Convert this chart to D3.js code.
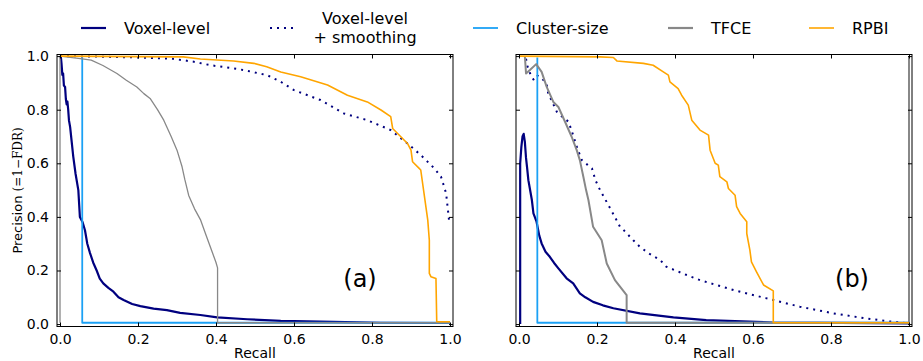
<!DOCTYPE html>
<html>
<head>
<meta charset="utf-8">
<script src="https://cdn.jsdelivr.net/npm/d3@7"></script>
<style>
  body { margin: 0; background: #fff; }
  svg { font-family: "DejaVu Sans", sans-serif; }
</style>
</head>
<body>
<svg width="923" height="361"></svg>
<script>
// recall / precision pairs
var voxelA = [[0.002,1.0],[0.004,0.97],[0.006,0.93],[0.008,0.935],[0.010,0.89],[0.013,0.885],[0.015,0.84],[0.017,0.82],[0.019,0.83],[0.021,0.80],[0.023,0.76],[0.026,0.735],[0.030,0.68],[0.034,0.625],[0.040,0.56],[0.047,0.50],[0.051,0.40],[0.058,0.38],[0.064,0.35],[0.070,0.30],[0.077,0.265],[0.085,0.23],[0.094,0.20],[0.102,0.17],[0.111,0.152],[0.124,0.135],[0.137,0.121],[0.150,0.10],[0.163,0.09],[0.185,0.075],[0.206,0.067],[0.24,0.058],[0.274,0.052],[0.308,0.042],[0.36,0.034],[0.403,0.025],[0.48,0.018],[0.566,0.012],[0.7,0.008],[0.823,0.005],[1.0,0.004]];
var smoothA = [[0,1.0],[0.1,0.998],[0.2,0.995],[0.29,0.99],[0.343,0.979],[0.386,0.966],[0.445,0.954],[0.471,0.948],[0.531,0.929],[0.565,0.905],[0.6,0.873],[0.668,0.836],[0.728,0.786],[0.788,0.761],[0.848,0.724],[0.891,0.674],[0.925,0.631],[0.96,0.581],[0.977,0.55],[0.99,0.488],[0.998,0.382]];
var clusterA = [[0.057,0.995],[0.057,0.005],[1.0,0.005]];
var tfceA = [[0,0.005],[0,1.0],[0.057,0.99],[0.08,0.985],[0.11,0.965],[0.146,0.935],[0.17,0.91],[0.197,0.885],[0.215,0.86],[0.231,0.842],[0.25,0.80],[0.266,0.761],[0.285,0.70],[0.30,0.649],[0.313,0.587],[0.32,0.54],[0.33,0.48],[0.345,0.43],[0.36,0.39],[0.375,0.33],[0.39,0.27],[0.40,0.23],[0.404,0.21],[0.404,0.005],[1.0,0.005]];
var rpbiA = [[0,1.0],[0.2,0.998],[0.316,0.997],[0.36,0.989],[0.445,0.982],[0.497,0.973],[0.53,0.96],[0.566,0.941],[0.617,0.923],[0.686,0.892],[0.737,0.854],[0.788,0.829],[0.823,0.799],[0.848,0.774],[0.853,0.73],[0.874,0.699],[0.891,0.674],[0.9,0.649],[0.904,0.606],[0.921,0.581],[0.925,0.575],[0.943,0.388],[0.947,0.313],[0.947,0.189],[0.951,0.177],[0.964,0.17],[0.966,0.009],[1.0,0.009]];

var voxelB = [[0.003,0.0],[0.003,0.60],[0.006,0.66],[0.009,0.70],[0.012,0.71],[0.015,0.68],[0.018,0.62],[0.021,0.58],[0.024,0.537],[0.033,0.463],[0.037,0.413],[0.045,0.382],[0.052,0.33],[0.058,0.301],[0.068,0.27],[0.079,0.251],[0.09,0.228],[0.101,0.208],[0.122,0.171],[0.139,0.152],[0.156,0.115],[0.17,0.10],[0.19,0.083],[0.215,0.07],[0.242,0.059],[0.31,0.04],[0.396,0.025],[0.48,0.015],[0.65,0.006],[1.0,0.003]];
var smoothB = [[0.018,0.99],[0.022,0.96],[0.03,0.93],[0.037,0.913],[0.045,0.93],[0.06,0.915],[0.071,0.895],[0.075,0.86],[0.085,0.83],[0.097,0.792],[0.11,0.775],[0.127,0.755],[0.14,0.70],[0.148,0.662],[0.161,0.612],[0.175,0.595],[0.187,0.581],[0.196,0.537],[0.208,0.50],[0.222,0.463],[0.242,0.41],[0.259,0.363],[0.268,0.351],[0.293,0.313],[0.31,0.288],[0.335,0.262],[0.362,0.239],[0.378,0.214],[0.43,0.183],[0.464,0.164],[0.55,0.127],[0.635,0.096],[0.72,0.065],[0.806,0.04],[0.891,0.021],[0.95,0.01],[1.0,0.003]];
var clusterB = [[0.047,0.995],[0.047,0.005],[1.0,0.005]];
var tfceB = [[0.015,1.0],[0.018,0.935],[0.028,0.948],[0.044,0.97],[0.058,0.941],[0.071,0.885],[0.088,0.829],[0.101,0.81],[0.118,0.755],[0.135,0.699],[0.148,0.649],[0.156,0.612],[0.165,0.55],[0.172,0.50],[0.178,0.463],[0.19,0.363],[0.212,0.313],[0.225,0.226],[0.246,0.164],[0.276,0.108],[0.276,0.005],[1.0,0.005],[1.0,1.0]];
var rpbiB = [[0,1.0],[0.208,0.997],[0.242,0.995],[0.251,0.982],[0.319,0.973],[0.344,0.966],[0.37,0.941],[0.383,0.929],[0.387,0.904],[0.408,0.879],[0.417,0.854],[0.434,0.817],[0.443,0.761],[0.464,0.724],[0.486,0.705],[0.49,0.649],[0.503,0.6],[0.511,0.593],[0.515,0.55],[0.533,0.531],[0.537,0.506],[0.554,0.481],[0.558,0.438],[0.567,0.413],[0.584,0.382],[0.584,0.338],[0.592,0.276],[0.596,0.232],[0.609,0.195],[0.627,0.146],[0.652,0.124],[0.652,0.005],[1.0,0.005]];

var ticks = [0, 0.2, 0.4, 0.6, 0.8, 1.0];
var legendNames = ["Voxel-level", "Voxel-level\n+ smoothing", "Cluster-size", "TFCE", "RPBI"];

var svg = d3.select("svg");

var styles = [
    {color: "#00007f", width: 2.2, dash: null},
    {color: "#00007f", width: 2, dash: "2,5"},
    {color: "#1ba1f5", width: 1.8, dash: null},
    {color: "#888888", width: 1.3, dash: null},
    {color: "#ffa500", width: 1.6, dash: null}
];

var panels = [
    {left: 57, series: [voxelA, smoothA, clusterA, tfceA, rpbiA], label: "(a)", yLabels: true, tfceW: 1.3},
    {left: 516, series: [voxelB, smoothB, clusterB, tfceB, rpbiB], label: "(b)", yLabels: false, tfceW: 2}
];

var W = 396, plotTop = 54.5, H = 272;

panels.forEach(function(p, pi) {
    var x = d3.scaleLinear().domain([-0.0077, 1.0077]).range([0, W]);
    var y = d3.scaleLinear().domain([-0.009, 1.006]).range([H, 0]);
    var g = svg.append("g").attr("transform", "translate(" + p.left + "," + plotTop + ")");

    g.append("clipPath").attr("id", "clip" + pi)
        .append("rect").attr("x", -1).attr("y", -1).attr("width", W + 2).attr("height", H + 2);

    var line = d3.line()
        .x(function(d) { return x(d[0]); })
        .y(function(d) { return y(d[1]); });

    var curves = g.append("g").attr("clip-path", "url(#clip" + pi + ")");
    p.series.forEach(function(s, i) {
        var st = styles[i];
        curves.append("path")
            .datum(s)
            .attr("d", line)
            .attr("fill", "none")
            .attr("stroke", st.color)
            .attr("stroke-width", i == 3 ? p.tfceW : st.width)
            .attr("stroke-dasharray", st.dash)
            .attr("stroke-linejoin", "round");
    });

    // axes with inward ticks on all four sides
    var xb = g.append("g").attr("transform", "translate(0," + H + ")")
        .call(d3.axisBottom(x).tickValues(ticks).tickSize(-4).tickPadding(8).tickFormat(d3.format(".1f")));
    var xt = g.append("g").call(d3.axisTop(x).tickValues(ticks).tickSize(-4).tickFormat(""));
    var yl = g.append("g")
        .call(d3.axisLeft(y).tickValues(ticks).tickSize(-4).tickPadding(8)
            .tickFormat(p.yLabels ? d3.format(".1f") : ""));
    var yr = g.append("g").attr("transform", "translate(" + W + ",0)")
        .call(d3.axisRight(y).tickValues(ticks).tickSize(-4).tickFormat(""));

    [xb, xt, yl, yr].forEach(function(a) {
        a.select(".domain").remove();
        a.selectAll("line").attr("stroke", "#000");
        a.selectAll("text").attr("font-size", 14).attr("fill", "#000")
            .attr("font-family", "DejaVu Sans");
    });

    g.append("rect").attr("width", W).attr("height", H)
        .attr("fill", "none").attr("stroke", "#000").attr("stroke-width", 1);

    g.append("text").attr("x", W / 2).attr("y", H + 31.5)
        .attr("text-anchor", "middle").attr("font-size", 14).text("Recall");

    g.append("text").attr("x", pi == 0 ? 303 : 336).attr("y", 232)
        .attr("text-anchor", "middle").attr("font-size", 24).text(p.label);
});

// y axis title
var yt = svg.append("text")
    .attr("transform", "translate(22," + (plotTop + H / 2) + ") rotate(-90)")
    .attr("text-anchor", "middle").attr("font-size", 13);
yt.append("tspan").text("Precision ");
yt.append("tspan").attr("font-family", "DejaVu Serif").attr("font-size", 12).text("(=1\u2212FDR)");

// legend
var legendX = [81, 270, 473, 668, 809];
var lg = svg.append("g");
legendNames.forEach(function(name, i) {
    var st = styles[i];
    lg.append("line")
        .attr("x1", legendX[i]).attr("x2", legendX[i] + 25)
        .attr("y1", 28).attr("y2", 28)
        .attr("stroke", st.color).attr("stroke-width", i == 3 ? 2.2 : st.width)
        .attr("stroke-dasharray", st.dash);
    var parts = name.split("\n");
    if (parts.length == 1) {
        lg.append("text").attr("x", legendX[i] + 43).attr("y", 34)
            .attr("font-size", 16).text(name);
    } else {
        parts.forEach(function(t, k) {
            lg.append("text").attr("x", 365).attr("y", 24 + k * 19)
                .attr("text-anchor", "middle").attr("font-size", 16).text(t);
        });
    }
});
</script>
</body>
</html>
